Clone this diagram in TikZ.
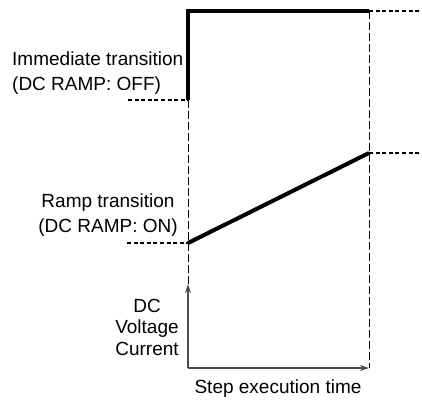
\documentclass[tikz,border=0pt]{standalone}
\usepackage{fontspec}
\setmainfont{Liberation Sans}
\usetikzlibrary{positioning, arrows.meta}

\begin{document}
\begin{tikzpicture}[
    x=1pt, y=-1pt,
    level/.style={line width=4pt, line join=miter},
    guide/.style={line width=1.2pt, dash pattern=on 4pt off 2.6pt},
    marker/.style={line width=0.9pt, dash pattern=on 8pt off 3pt},
    axis/.style={line width=1.2pt, black!70, -{Stealth[length=9pt, width=6pt]}},
    label/.style={font=\fontsize{19}{25}\selectfont, inner sep=0pt}
]
    \useasboundingbox (0,0) rectangle (422,400);

    % points of the two transitions
    \coordinate (immLow) at (188,100);
    \coordinate (immHigh) at (188,11);
    \coordinate (immEnd) at (369,11);
    \coordinate (rampLow) at (188,243);
    \coordinate (rampEnd) at (369,153);
    \coordinate (immLeft) at (128,100);
    \coordinate (rampLeft) at (127,243);
    \coordinate (immRight) at (422,11);
    \coordinate (rampRight) at (422,153);

    % axes
    \coordinate (origin) at (188,368);
    \coordinate (yTip) at (188,284);
    \coordinate (xTip) at (369,368);

    \draw[marker] (immLow) -- (yTip);
    \draw[marker] (immEnd) -- (xTip);

    \draw[guide] (immLeft) -- (immLow);
    \draw[guide] (rampLeft) -- (rampLow);
    \draw[guide] (immEnd) -- (immRight);
    \draw[guide] (rampEnd) -- (rampRight);

    \draw[level] (immLow) -- (immHigh) -- (immEnd);
    \draw[level] (rampLow) -- (rampEnd);

    \draw[axis] (origin) -- (yTip);
    \draw[axis] (origin) -- (xTip);

    \node[
        label,
        align=left,
        anchor=base west
    ] (immText) at (12,90) {Immediate transition\\(DC RAMP: OFF)};
    \node[
        label,
        align=center,
        anchor=base
    ] (rampText) at (108,232) {Ramp transition\\(DC RAMP: ON)};
    \node[
        label,
        align=center,
        anchor=base,
        font=\fontsize{19}{21.5}\selectfont
    ] (yText) at (147,355) {DC\\Voltage\\Current};
    \node[
        label,
        anchor=base
    ] (xText) at (278,393) {Step execution time};
\end{tikzpicture}
\end{document}
